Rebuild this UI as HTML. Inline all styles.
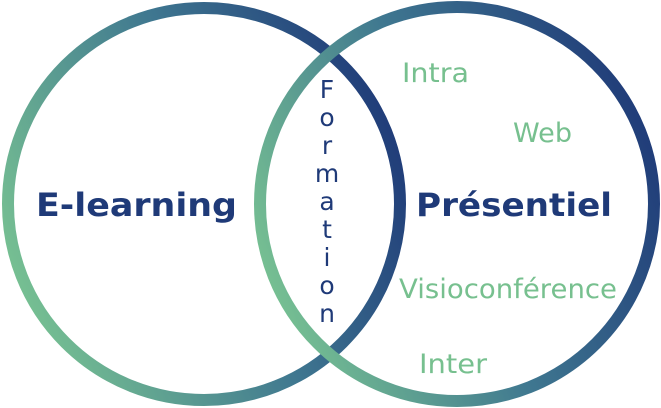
<!DOCTYPE html>
<html><head><meta charset="utf-8"><style>html,body{margin:0;padding:0;background:#fff}svg{display:block}</style></head>
<body>
<svg width="661" height="408" viewBox="0 0 661 408" xmlns="http://www.w3.org/2000/svg">
<defs>
<linearGradient id="g1" x1="0" y1="0.7" x2="1" y2="0.3">
<stop offset="0" stop-color="#78c292"/><stop offset="0.55" stop-color="#3f7790"/><stop offset="1" stop-color="#1f3a78"/>
</linearGradient>
<linearGradient id="g2" x1="0" y1="0.7" x2="1" y2="0.3">
<stop offset="0" stop-color="#78c292"/><stop offset="0.5" stop-color="#3f7790"/><stop offset="1" stop-color="#1f3a78"/>
</linearGradient>
</defs>
<circle cx="204" cy="204" r="196" fill="none" stroke="url(#g1)" stroke-width="12"/>
<circle cx="457" cy="204" r="197" fill="none" stroke="url(#g2)" stroke-width="12"/>
<g font-family="DejaVu Sans, Liberation Sans, sans-serif">
<text x="36" y="216" font-size="32" font-weight="bold" fill="#1f3a78" textLength="201" lengthAdjust="spacingAndGlyphs">E-learning</text>
<text x="416" y="216" font-size="32" font-weight="bold" fill="#1f3a78" textLength="196" lengthAdjust="spacingAndGlyphs">Présentiel</text>
<g fill="#77c08f" font-size="27">
<text x="402" y="82" textLength="67" lengthAdjust="spacingAndGlyphs">Intra</text>
<text x="513" y="142" textLength="59" lengthAdjust="spacingAndGlyphs">Web</text>
<text x="399" y="298" textLength="218" lengthAdjust="spacingAndGlyphs">Visioconférence</text>
<text x="419" y="373" textLength="68" lengthAdjust="spacingAndGlyphs">Inter</text>
</g>
<g fill="#1f3a78" font-size="25" text-anchor="middle">
<text x="327" y="98">F</text>
<text x="327" y="126">o</text>
<text x="327" y="154">r</text>
<text x="327" y="182">m</text>
<text x="327" y="210">a</text>
<text x="327" y="238">t</text>
<text x="327" y="266">i</text>
<text x="327" y="294">o</text>
<text x="327" y="322">n</text>
</g>
</g>
</svg>
</body></html>
